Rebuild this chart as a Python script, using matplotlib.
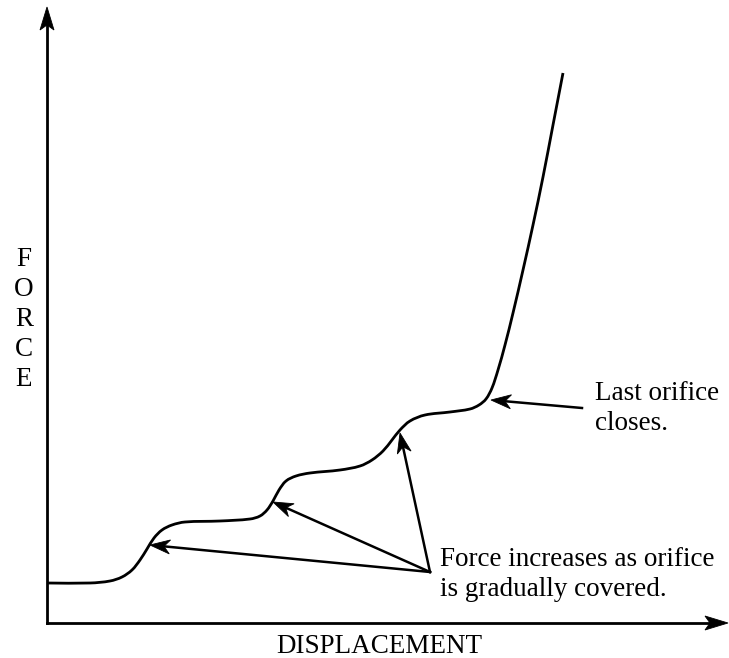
import matplotlib
matplotlib.use("Agg")
import numpy as np
import matplotlib.pyplot as plt
from matplotlib.path import Path
from matplotlib.patches import PathPatch, Polygon
from matplotlib.transforms import IdentityTransform

# force vs displacement of a dashpot as its orifices get covered (schematic units)
displacement = [0, 43, 63, 75, 85, 93, 100, 107, 115, 125, 138, 173, 203, 213,
                220, 226, 232, 239, 249, 263, 293, 313, 325, 336, 345, 353, 363,
                378, 403, 423, 432, 439, 445, 451, 458, 466, 476, 486, 496, 506, 516]
force = [40, 40, 42, 46, 53, 63, 74, 85, 93, 98, 101, 102, 104, 107, 113, 122,
         133, 142, 147, 150, 153, 157, 163, 172, 183, 193, 202, 208, 211, 214,
         218, 224, 235, 253, 278, 310, 353, 398, 446, 498, 550]

# points on the curve where each orifice stage starts
orifice_steps = [(103, 78), (226, 121), (353, 190)]
last_orifice = (444, 223)
steps_note_at = (383, 51)
last_note_at = (535, 215)

note_steps = "Force increases as orifice\nis gradually covered."
note_last = "Last orifice\ncloses."

plt.rcParams['font.family'] = ['Liberation Serif', 'DejaVu Serif']

fig = plt.figure(figsize=(7.29, 6.58), dpi=100)
ax = fig.add_axes([47 / 729, 35 / 658, 681 / 729, 616 / 658])
ax.set_xlim(0, 681)
ax.set_ylim(0, 616)
ax.axis("off")


def smooth_path(xs, ys):
    # cubic Bezier through every point, tangents from the neighbours,
    # handle length a third of each segment so nothing overshoots
    p = np.column_stack([xs, ys]).astype(float)
    tang = np.zeros_like(p)
    tang[1:-1] = p[2:] - p[:-2]
    tang[0] = p[1] - p[0]
    tang[-1] = p[-1] - p[-2]
    tang /= np.hypot(tang[:, 0], tang[:, 1])[:, None]
    verts = [p[0]]
    codes = [Path.MOVETO]
    for i in range(len(p) - 1):
        seg = np.hypot(*(p[i + 1] - p[i])) / 3
        verts += [p[i] + tang[i] * seg, p[i + 1] - tang[i + 1] * seg, p[i + 1]]
        codes += [Path.CURVE4] * 3
    return Path(verts, codes)


def arrow(start, tip, coords, lw, length, half_width, notch):
    # straight shaft with a swept-back head, head built in pixels
    trans = ax.transAxes if coords == "axes" else ax.transData
    s = trans.transform(start)
    t = trans.transform(tip)
    d = (t - s) / np.hypot(*(t - s))
    n = np.array([-d[1], d[0]])
    base = t - d * length
    inner = t - d * (length - notch)
    ax.plot([s[0], inner[0]], [s[1], inner[1]], color="black", lw=lw,
            solid_capstyle="projecting", transform=IdentityTransform(),
            clip_on=False)
    head = [t, base + n * half_width, inner, base - n * half_width]
    ax.add_patch(Polygon(head, closed=True, facecolor="black", edgecolor="black",
                         lw=0.6, transform=IdentityTransform(), clip_on=False))


# axes drawn as arrows
arrow((0, 0), (0, 1), "axes", 2.0, 23, 7, 5)
arrow((0, 0), (1, 0), "axes", 2.0, 23, 7, 5)

ax.add_patch(PathPatch(smooth_path(displacement, force), facecolor="none",
                       edgecolor="black", lw=2.0, capstyle="butt", clip_on=False))

for step in orifice_steps:
    arrow(steps_note_at, step, "data", 1.8, 20, 7, 6)
arrow(last_note_at, last_orifice, "data", 1.8, 20, 7, 6)

ax.text(393, 27, note_steps, fontsize=19.5, ha="left", va="baseline",
        linespacing=1.24)
ax.text(548, 193, note_last, fontsize=19.5, ha="left", va="baseline",
        linespacing=1.26)

ax.text(332.5, -30, "DISPLACEMENT", fontsize=19.5, ha="center", va="baseline",
        clip_on=False)
ax.text(-23, 303.5, "\n".join("FORCE"), fontsize=19.5, ha="center", va="center",
        multialignment="center", linespacing=1.25, clip_on=False)

fig.savefig("out.png", dpi=100)
